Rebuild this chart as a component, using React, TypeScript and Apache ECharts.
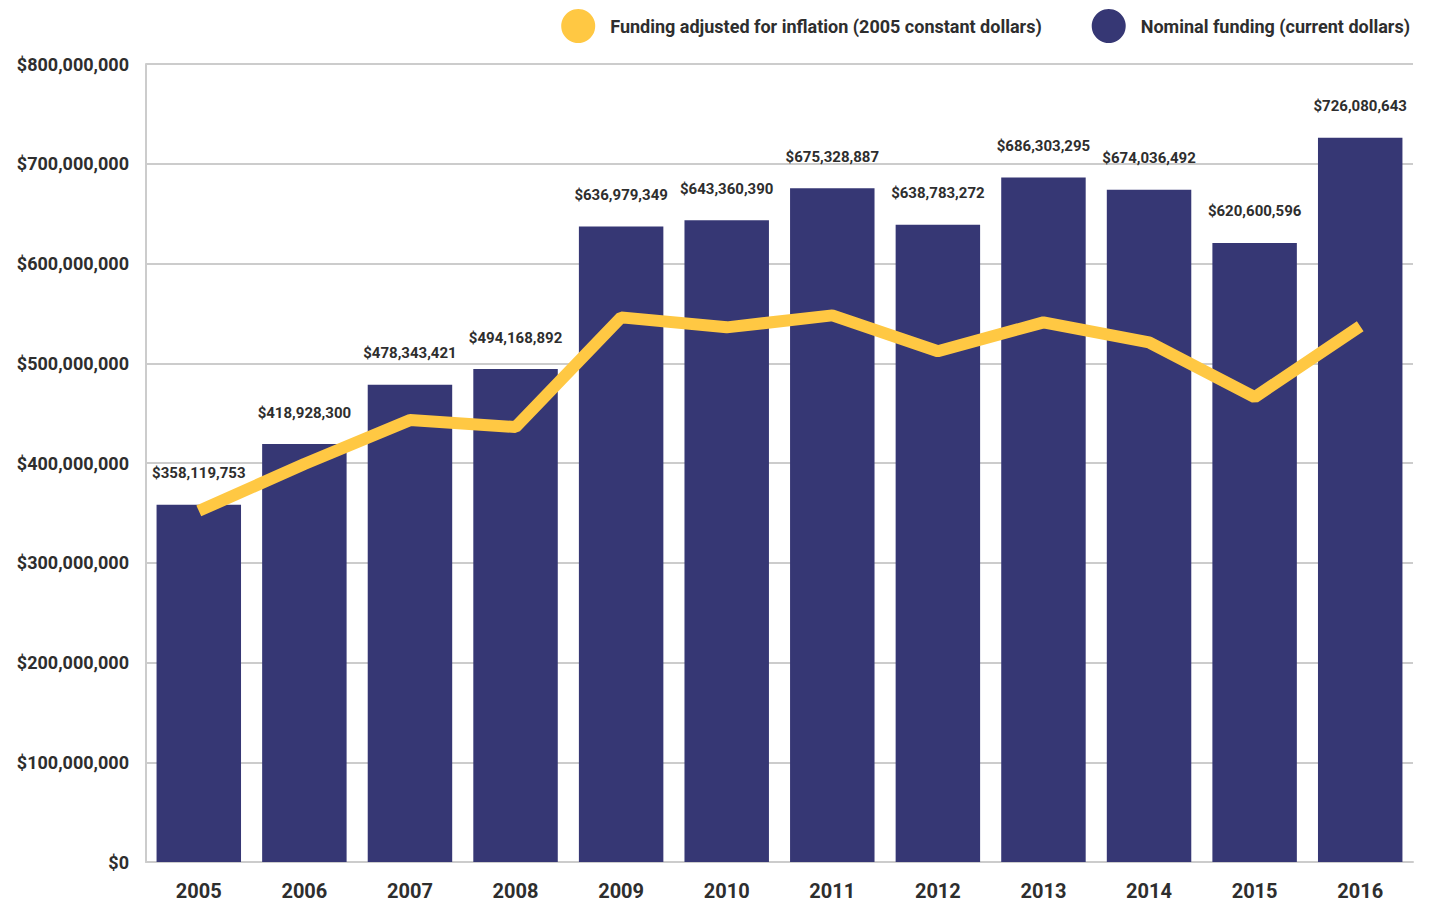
import React, { useEffect, useRef } from "react";
import * as echarts from "echarts";

const years = ["2005", "2006", "2007", "2008", "2009", "2010", "2011", "2012", "2013", "2014", "2015", "2016"];
const nominalFunding = [358119753, 418928300, 478343421, 494168892, 636979349, 643360390, 675328887, 638783272, 686303295, 674036492, 620600596, 726080643];
const adjustedFunding = [352000000, 399000000, 443000000, 436000000, 546000000, 536000000, 548000000, 512000000, 541000000, 521000000, 466000000, 537000000];
const yTicks = [0, 100000000, 200000000, 300000000, 400000000, 500000000, 600000000, 700000000, 800000000];

const FONT = "Roboto, 'Liberation Sans', sans-serif";
const NAVY = "#363774";
const YELLOW = "#FFC843";
const TEXT = "#2e2e2e";

const fmt = (v: number) => "$" + Math.round(v).toLocaleString("en-US");

export default function App() {
  const ref = useRef<HTMLDivElement>(null);
  useEffect(() => {
    if (!ref.current) return;
    const chart = echarts.init(ref.current, null, { renderer: "svg" });
    chart.setOption({
      animation: false,
      textStyle: { fontFamily: FONT },
      legend: {
        top: 4,
        right: 28,
        icon: "circle",
        itemWidth: 34,
        itemHeight: 34,
        itemGap: 50,
        textStyle: { fontFamily: FONT, fontWeight: "bold", fontSize: 18, color: TEXT, padding: [0, 0, 0, 10] },
        data: ["Funding adjusted for inflation (2005 constant dollars)", "Nominal funding (current dollars)"],
      },
      grid: { left: 146, right: 30, top: 64, bottom: 42, containLabel: false },
      xAxis: {
        type: "category",
        data: years,
        axisTick: { show: false },
        axisLine: { show: true, lineStyle: { color: "#cccccc", width: 2 } },
        axisLabel: { fontFamily: FONT, fontWeight: "bold", fontSize: 20, color: TEXT, margin: 19 },
      },
      yAxis: {
        type: "value",
        min: yTicks[0],
        max: yTicks[yTicks.length - 1],
        interval: 100000000,
        axisLine: { show: true, lineStyle: { color: "#cccccc", width: 2 } },
        axisTick: { show: false },
        splitLine: { lineStyle: { color: "#cccccc", width: 2 } },
        axisLabel: { fontFamily: FONT, fontWeight: "bold", fontSize: 18, color: TEXT, margin: 17, formatter: (v: number) => fmt(v) },
      },
      series: [
        {
          name: "Nominal funding (current dollars)",
          type: "bar",
          data: nominalFunding,
          barCategoryGap: "20%",
          itemStyle: { color: NAVY },
          label: {
            show: true,
            position: "top",
            distance: 24,
            fontFamily: FONT,
            fontWeight: "bold",
            fontSize: 15,
            color: TEXT,
            formatter: (p: any) => fmt(p.value),
          },
          z: 2,
        },
        {
          name: "Funding adjusted for inflation (2005 constant dollars)",
          type: "line",
          data: adjustedFunding,
          symbol: "none",
          lineStyle: { color: YELLOW, width: 12 },
          itemStyle: { color: YELLOW },
          z: 3,
        },
      ],
    });
    return () => chart.dispose();
  }, []);
  return <div ref={ref} style={{ width: 1443, height: 904, position: "absolute", left: 0, top: 0 }} />;
}
